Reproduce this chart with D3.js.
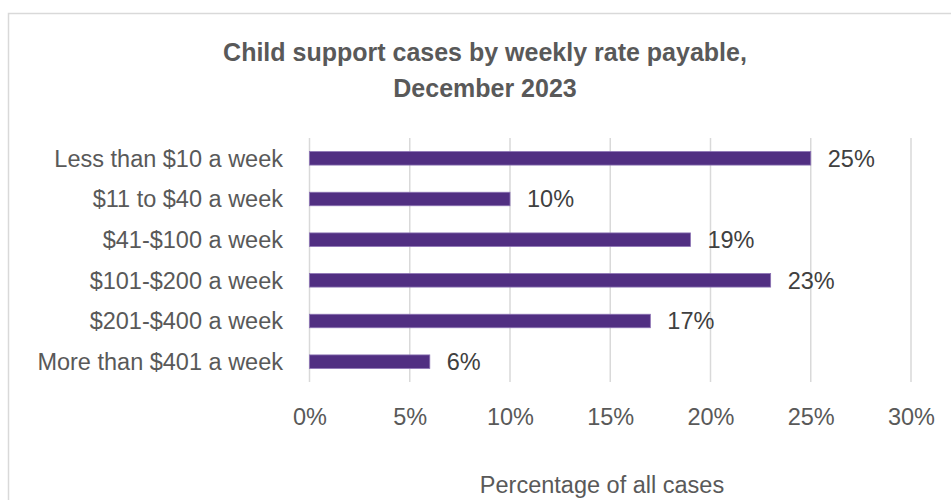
<!DOCTYPE html>
<html lang="en">
<head>
    <meta charset="UTF-8">
    <title>Child support cases by weekly rate payable</title>
    <style>
        body { margin: 0; background: #fff; }
        svg { display: block; font-family: "Liberation Sans", Arial, sans-serif; }
    </style>
</head>
<body>
    <svg id="chart" width="951" height="500"></svg>

    <script src="https://d3js.org/d3.v7.min.js"></script>
    <script>
        // Chart data
        var categories = ["Less than $10 a week", "$11 to $40 a week", "$41-$100 a week",
                          "$101-$200 a week", "$201-$400 a week", "More than $401 a week"];
        var values = [25, 10, 19, 23, 17, 6];
        var tickValues = [0, 5, 10, 15, 20, 25, 30];
        var titleLines = ["Child support cases by weekly rate payable,", "December 2023"];
        var axisTitle = "Percentage of all cases";

        var svg = d3.select("#chart");

        // chart area border (runs off the right and bottom edges)
        svg.append("rect")
            .attr("x", 8.5).attr("y", 13.5)
            .attr("width", 960).attr("height", 500)
            .attr("fill", "none")
            .attr("stroke", "#d9d9d9")
            .attr("stroke-width", 1.5);

        var x = d3.scaleLinear().domain([0, 30]).range([309.5, 911]);
        var y = d3.scaleBand().domain(categories).range([138, 382])
                  .paddingInner(0.668).paddingOuter(0.334);

        // title
        svg.append("g").selectAll("text")
            .data(titleLines)
            .enter().append("text")
            .attr("x", 485)
            .attr("y", function(d, i) { return 61 + i * 36; })
            .attr("text-anchor", "middle")
            .attr("font-size", "25px")
            .attr("font-weight", "bold")
            .attr("fill", "#595959")
            .text(function(d) { return d; });

        // vertical gridlines
        svg.append("g").selectAll("line")
            .data(tickValues)
            .enter().append("line")
            .attr("x1", function(d) { return x(d); })
            .attr("x2", function(d) { return x(d); })
            .attr("y1", 138).attr("y2", 382)
            .attr("stroke", "#d9d9d9")
            .attr("stroke-width", 1.5);

        // x axis tick labels
        var xAxis = d3.axisBottom(x)
            .tickValues(tickValues)
            .tickSize(0)
            .tickPadding(0)
            .tickFormat(function(d) { return d + "%"; });
        var gx = svg.append("g")
            .attr("transform", "translate(0,425)")
            .call(xAxis);
        gx.select(".domain").remove();
        gx.selectAll("text")
            .attr("y", 0).attr("dy", 0)
            .attr("font-family", "Liberation Sans, Arial, sans-serif")
            .attr("font-size", "23.5px")
            .attr("fill", "#595959");

        // category labels
        var yAxis = d3.axisLeft(y).tickSize(0).tickPadding(0);
        var gy = svg.append("g")
            .attr("transform", "translate(283,0)")
            .call(yAxis);
        gy.select(".domain").remove();
        gy.selectAll("text")
            .attr("dy", "0.35em")
            .attr("font-family", "Liberation Sans, Arial, sans-serif")
            .attr("font-size", "23.5px")
            .attr("fill", "#595959");

        // bars
        svg.append("g").selectAll("rect")
            .data(values)
            .enter().append("rect")
            .attr("x", x(0))
            .attr("y", function(d, i) { return y(categories[i]); })
            .attr("width", function(d) { return x(d) - x(0); })
            .attr("height", y.bandwidth())
            .attr("fill", "#512f82")
            .attr("stroke", "#8b72b3")
            .attr("stroke-width", 0.8);

        // data labels
        svg.append("g").selectAll("text")
            .data(values)
            .enter().append("text")
            .attr("x", function(d) { return x(d) + 17; })
            .attr("y", function(d, i) { return y(categories[i]) + y.bandwidth() / 2; })
            .attr("dy", "0.35em")
            .attr("font-size", "23.5px")
            .attr("fill", "#404040")
            .text(function(d) { return d + "%"; });

        // axis title
        svg.append("text")
            .attr("x", 602).attr("y", 493)
            .attr("text-anchor", "middle")
            .attr("font-size", "23.5px")
            .attr("fill", "#595959")
            .text(axisTitle);
    </script>
</body>
</html>
